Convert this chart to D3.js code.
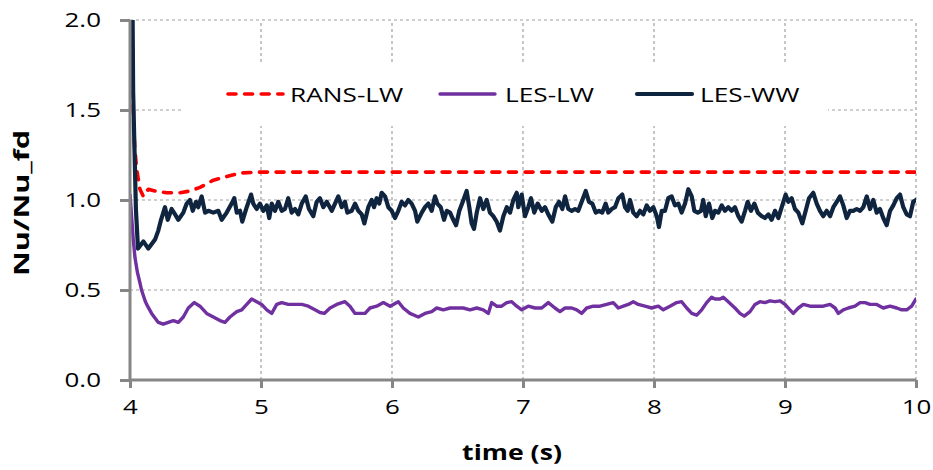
<!DOCTYPE html>
<html><head><meta charset="utf-8">
<script src="https://cdn.jsdelivr.net/npm/d3@7"></script>
<style>body{margin:0;background:#fff}svg{display:block}</style>
</head><body>
<svg id="c" width="933" height="470"></svg>
<script>
const xTicks = [4,5,6,7,8,9,10];
const yTicks = [0,0.5,1.0,1.5,2.0];
const seriesNames = ["RANS-LW","LES-LW","LES-WW"];
const xTitle = "time (s)";
const yTitle = "Nu/Nu_fd";

const ransLW = [[4.000,3.0],[4.020,1.6],[4.035,1.3],[4.051,1.17],[4.076,1.06],[4.102,1.02],[4.140,1.06],[4.191,1.05],[4.280,1.04],[4.382,1.04],[4.458,1.05],[4.534,1.07],[4.636,1.11],[4.738,1.13],[4.840,1.15],[5.000,1.155],[10.000,1.155]];

const lesLW = [[4.000,1.03],[4.025,0.78],[4.038,0.68],[4.056,0.60],[4.076,0.54],[4.088,0.50],[4.115,0.44],[4.127,0.42],[4.165,0.37],[4.216,0.32],[4.254,0.31],[4.292,0.32],[4.331,0.33],[4.369,0.32],[4.407,0.35],[4.445,0.40],[4.491,0.43],[4.534,0.41],[4.585,0.37],[4.636,0.35],[4.687,0.33],[4.725,0.32],[4.763,0.35],[4.815,0.38],[4.853,0.39],[4.891,0.42],[4.929,0.45],[4.967,0.435],[5.005,0.42],[5.044,0.39],[5.082,0.37],[5.120,0.42],[5.158,0.43],[5.208,0.42],[5.260,0.42],[5.311,0.42],[5.361,0.41],[5.412,0.39],[5.450,0.375],[5.483,0.37],[5.527,0.40],[5.578,0.42],[5.641,0.435],[5.679,0.41],[5.718,0.37],[5.756,0.37],[5.794,0.37],[5.832,0.40],[5.883,0.41],[5.934,0.43],[5.985,0.41],[6.010,0.42],[6.048,0.435],[6.086,0.40],[6.137,0.37],[6.201,0.35],[6.252,0.37],[6.303,0.38],[6.341,0.40],[6.392,0.39],[6.443,0.40],[6.494,0.40],[6.544,0.40],[6.595,0.39],[6.647,0.40],[6.697,0.39],[6.735,0.37],[6.761,0.43],[6.799,0.41],[6.837,0.41],[6.876,0.43],[6.914,0.435],[6.952,0.41],[6.990,0.39],[7.040,0.41],[7.092,0.40],[7.143,0.40],[7.193,0.43],[7.244,0.40],[7.282,0.38],[7.321,0.40],[7.372,0.40],[7.410,0.39],[7.448,0.37],[7.486,0.40],[7.537,0.41],[7.588,0.41],[7.639,0.42],[7.689,0.43],[7.728,0.40],[7.766,0.41],[7.804,0.42],[7.842,0.435],[7.880,0.42],[7.931,0.41],[7.982,0.40],[8.033,0.41],[8.071,0.39],[8.122,0.41],[8.173,0.43],[8.211,0.435],[8.250,0.40],[8.288,0.37],[8.326,0.36],[8.364,0.39],[8.402,0.43],[8.440,0.46],[8.466,0.45],[8.504,0.45],[8.529,0.46],[8.567,0.435],[8.618,0.40],[8.656,0.37],[8.689,0.355],[8.733,0.38],[8.771,0.42],[8.809,0.435],[8.847,0.43],[8.885,0.44],[8.924,0.435],[8.962,0.44],[9.000,0.42],[9.038,0.39],[9.063,0.37],[9.102,0.40],[9.140,0.42],[9.191,0.41],[9.242,0.41],[9.292,0.41],[9.344,0.42],[9.382,0.40],[9.407,0.37],[9.445,0.39],[9.483,0.40],[9.534,0.41],[9.573,0.43],[9.611,0.43],[9.649,0.42],[9.700,0.42],[9.750,0.40],[9.802,0.41],[9.853,0.40],[9.891,0.39],[9.929,0.39],[9.967,0.41],[10.000,0.45]];

const lesWW = [[4.000,4.0],[4.024,1.6],[4.045,0.95],[4.061,0.73],[4.102,0.77],[4.140,0.73],[4.191,0.78],[4.216,0.83],[4.237,0.89],[4.267,0.96],[4.288,0.89],[4.318,0.95],[4.344,0.92],[4.369,0.89],[4.407,0.93],[4.433,0.98],[4.458,1.00],[4.479,0.94],[4.504,0.99],[4.521,0.96],[4.547,1.02],[4.573,0.93],[4.598,0.94],[4.636,0.93],[4.674,0.94],[4.700,0.89],[4.738,0.93],[4.776,0.98],[4.796,1.01],[4.815,0.93],[4.840,0.94],[4.857,0.88],[4.891,0.96],[4.924,1.03],[4.941,0.98],[4.967,0.95],[4.992,0.98],[5.018,0.94],[5.044,0.97],[5.063,0.90],[5.082,0.98],[5.107,0.94],[5.132,0.99],[5.158,0.94],[5.183,0.95],[5.208,1.01],[5.234,0.93],[5.260,0.95],[5.285,0.92],[5.311,0.98],[5.341,1.02],[5.366,0.95],[5.399,0.91],[5.425,0.99],[5.450,1.01],[5.476,0.96],[5.502,0.99],[5.540,0.94],[5.565,0.98],[5.590,1.02],[5.616,0.96],[5.641,0.99],[5.659,0.93],[5.692,0.94],[5.718,0.98],[5.743,0.94],[5.769,0.92],[5.789,0.87],[5.819,0.96],[5.845,1.00],[5.863,0.96],[5.883,1.01],[5.903,0.98],[5.921,1.04],[5.947,1.02],[5.972,0.96],[5.998,0.94],[6.023,0.90],[6.048,0.94],[6.074,0.99],[6.099,0.97],[6.124,1.00],[6.150,0.98],[6.176,0.94],[6.193,0.88],[6.227,0.93],[6.252,0.96],[6.277,0.98],[6.303,0.94],[6.328,1.02],[6.346,0.98],[6.372,0.96],[6.397,0.89],[6.418,0.94],[6.443,0.93],[6.468,0.89],[6.489,0.86],[6.514,0.94],[6.540,0.99],[6.570,1.05],[6.590,0.96],[6.608,0.87],[6.626,0.84],[6.647,0.93],[6.672,1.01],[6.697,0.95],[6.723,1.00],[6.748,0.93],[6.773,0.91],[6.799,0.88],[6.824,0.83],[6.850,0.91],[6.876,0.96],[6.901,0.93],[6.926,1.00],[6.952,1.04],[6.964,0.96],[6.990,1.03],[7.015,0.91],[7.040,0.96],[7.061,1.01],[7.086,0.93],[7.112,0.98],[7.143,0.94],[7.168,0.96],[7.193,0.92],[7.224,0.88],[7.250,0.96],[7.275,0.99],[7.300,0.95],[7.321,1.02],[7.346,0.95],[7.372,0.94],[7.397,0.95],[7.422,0.94],[7.448,0.99],[7.479,1.05],[7.504,0.99],[7.529,0.98],[7.555,0.93],[7.580,0.94],[7.605,0.93],[7.631,0.98],[7.651,0.93],[7.677,0.95],[7.702,0.96],[7.728,1.01],[7.758,1.03],[7.779,0.96],[7.799,0.94],[7.817,1.00],[7.842,0.93],[7.868,0.91],[7.893,0.94],[7.918,0.92],[7.944,0.97],[7.969,0.94],[7.995,0.96],[8.021,0.91],[8.038,0.85],[8.059,0.94],[8.084,0.94],[8.109,1.01],[8.135,1.02],[8.160,0.97],[8.186,0.98],[8.211,0.93],[8.237,0.98],[8.262,1.06],[8.288,1.02],[8.308,0.94],[8.334,0.93],[8.359,0.94],[8.376,1.00],[8.395,0.91],[8.420,0.98],[8.445,0.90],[8.466,0.94],[8.491,0.93],[8.517,0.97],[8.542,0.94],[8.567,0.96],[8.593,0.94],[8.618,0.96],[8.644,0.91],[8.669,0.88],[8.695,0.94],[8.715,0.99],[8.740,0.94],[8.766,0.98],[8.792,0.93],[8.822,0.91],[8.847,0.90],[8.873,0.92],[8.898,0.89],[8.924,0.94],[8.949,0.90],[8.975,0.96],[9.005,1.03],[9.025,0.99],[9.051,1.01],[9.076,0.95],[9.102,0.93],[9.132,0.87],[9.158,0.94],[9.183,1.01],[9.216,1.04],[9.242,0.98],[9.267,0.94],[9.292,0.91],[9.318,0.94],[9.344,0.91],[9.369,0.96],[9.395,0.99],[9.420,1.02],[9.445,0.97],[9.471,0.90],[9.496,0.94],[9.521,0.94],[9.547,0.95],[9.573,0.94],[9.598,0.96],[9.624,1.02],[9.649,0.95],[9.674,1.00],[9.700,0.93],[9.725,0.95],[9.750,0.90],[9.776,0.86],[9.802,0.94],[9.827,0.97],[9.853,1.01],[9.878,1.03],[9.903,0.96],[9.929,0.92],[9.954,0.91],[9.979,0.99],[10.000,1.00]];

const svg = d3.select("#c");
const font = "'Open Sans', 'Noto Sans', sans-serif";
const x = d3.scaleLinear().domain([4,10]).range([130,916]);
const y = d3.scaleLinear().domain([0,2]).range([380,20]);
const axisColor = "#868686";
const gridColor = "#a0a0a0";
const sTick = 1.33, sLeg = 1.28, sTitle = 1.24;

// gridlines
svg.append("g").selectAll("line").data(xTicks.filter(d=>d>4)).join("line")
  .attr("x1",d=>x(d)).attr("x2",d=>x(d)).attr("y1",y(0)).attr("y2",y(2))
  .attr("stroke",gridColor).attr("stroke-width",1.2).attr("stroke-dasharray","3,3");
svg.append("g").selectAll("line").data(yTicks.filter(d=>d>0)).join("line")
  .attr("x1",x(4)).attr("x2",x(10)).attr("y1",d=>y(d)).attr("y2",d=>y(d))
  .attr("stroke",gridColor).attr("stroke-width",1.2).attr("stroke-dasharray","3,3");

// legend background
svg.append("rect").attr("x",184).attr("y",62).attr("width",644).attr("height",64).attr("fill","#fff");

// clip
svg.append("clipPath").attr("id","pc").append("rect")
  .attr("x",x(4)).attr("y",y(2)).attr("width",x(10)-x(4)).attr("height",y(0)-y(2));

const line = d3.line().x(d=>x(d[0])).y(d=>y(d[1]));
const series = [
  {name:seriesNames[0], data:ransLW, color:"#ff0000", w:3.6, dash:"8,8.6"},
  {name:seriesNames[1], data:lesLW, color:"#7030a0", w:3.4, dash:null},
  {name:seriesNames[2], data:lesWW, color:"#0f243e", w:4.2, dash:null}
];
const gl = svg.append("g").attr("clip-path","url(#pc)");
series.forEach(s=>{
  gl.append("path").attr("d",line(s.data)).attr("fill","none")
    .attr("stroke",s.color).attr("stroke-width",s.w)
    .attr("stroke-linejoin","round").attr("stroke-linecap","round")
    .attr("stroke-dasharray",s.dash);
});

// axes
const xAxis = svg.append("g").attr("transform",`translate(0,${y(0)})`)
  .call(d3.axisBottom(x).tickValues(xTicks).tickFormat(d3.format("d")).tickSize(8).tickPadding(12));
const yAxis = svg.append("g").attr("transform",`translate(${x(4)},0)`)
  .call(d3.axisLeft(y).tickValues(yTicks).tickFormat(d3.format(".1f")).tickSize(10).tickPadding(18));
[xAxis,yAxis].forEach(a=>{
  a.select(".domain").attr("stroke",axisColor).attr("stroke-width",3);
  a.selectAll(".tick line").attr("stroke",axisColor).attr("stroke-width",3);
  a.selectAll(".tick text").attr("fill","#000").style("font-family",font).style("font-size","19.5px")
    .attr("transform",`scale(${sTick},1)`);
});
yAxis.selectAll(".tick text").attr("x",-29/sTick);
xAxis.select(".domain").attr("d",`M${x(4)},0H${x(10)}`);
yAxis.select(".domain").attr("d",`M0,${y(0)}V${y(2)}`);

// titles
svg.append("text").attr("transform",`translate(512,460) scale(${sTitle},1)`).attr("text-anchor","middle")
  .style("font-family",font).style("font-size","21.5px").style("font-weight","bold").text(xTitle);
svg.append("text").attr("transform",`translate(29,203) rotate(-90) scale(1.42,1)`).attr("text-anchor","middle")
  .style("font-family",font).style("font-size","21.5px").style("font-weight","bold").text(yTitle);

// legend
const legX = [228,440,637];
const legTextX = [290,505,700];
series.forEach((s,i)=>{
  const g = svg.append("g");
  g.append("line").attr("x1",legX[i]).attr("x2",legX[i]+55).attr("y1",94).attr("y2",94)
    .attr("stroke",s.color).attr("stroke-width",s.w).attr("stroke-linecap","round")
    .attr("stroke-dasharray",s.dash);
  g.append("text").attr("transform",`translate(${legTextX[i]},101.5) scale(${sLeg},1)`)
    .style("font-family",font).style("font-size","20.5px").attr("fill","#000").text(s.name);
});
</script>
</body></html>
